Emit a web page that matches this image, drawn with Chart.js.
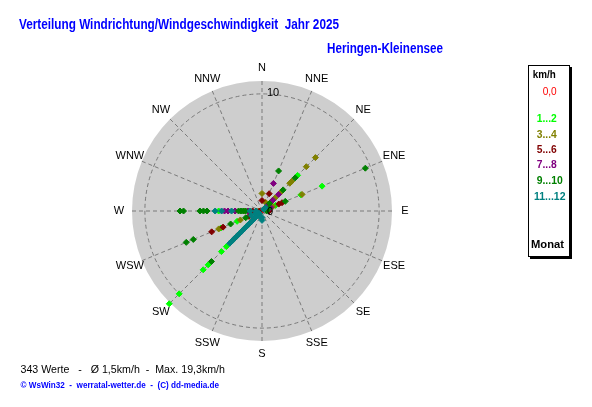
<!DOCTYPE html>
<html>
<head>
<meta charset="utf-8">
<script src="https://cdn.jsdelivr.net/npm/chart.js@4"></script>
<style>
  html, body { margin: 0; padding: 0; background: #fff; }
  canvas { display: block; }
</style>
</head>
<body>
<canvas id="rose" width="592" height="407"></canvas>
<script>
  const directions = ['N', 'NNE', 'NE', 'ENE', 'E', 'ESE', 'SE', 'SSE',
    'S', 'SSW', 'SW', 'WSW', 'W', 'WNW', 'NW', 'NNW'];
  const radialTicks = [0, 10];

  const groupLabels = ['0,0', '1...2', '3...4', '5...6', '7...8', '9...10', '11...12'];
  const groupColors = ['#ff0000', '#00ff00', '#808000', '#800000', '#800080', '#008000', '#008080'];

  // readings per month pair: [direction, value]
  const calm = [['N', 0], ['E', 0]];
  const months1_2 = [
    ['SW', 11.2], ['SW', 10.0], ['SW', 7.1], ['SW', 6.5], ['SW', 4.9], ['SW', 4.3], ['SW', 1.9],
    ['WSW', 3.8], ['WSW', 2.3], ['W', 3.7], ['W', 1.1],
    ['NE', 4.3], ['NE', 1.1], ['ENE', 5.55], ['ENE', 3.6], ['ENE', 1.25]
  ];
  const months3_4 = [
    ['NE', 6.45], ['NE', 5.35], ['NE', 3.6], ['NE', 3.35], ['NE', 2.3], ['NE', 1.6],
    ['ENE', 3.7], ['ENE', 1.0], ['N', 1.5], ['NNE', 0.8],
    ['WSW', 4.0], ['WSW', 2.0], ['W', 1.5], ['W', 0.3]
  ];
  const months5_6 = [
    ['W', 2.3], ['W', 0.8], ['W', 0.5], ['W', 0.2],
    ['WSW', 4.65], ['WSW', 3.6], ['WSW', 1.2], ['SW', 3.1], ['SW', 1.6],
    ['NNE', 1.6], ['NE', 1.0], ['NE', 0.5], ['ENE', 1.85], ['ENE', 1.55], ['E', 0.6], ['N', 0.9]
  ];
  const months7_8 = [
    ['W', 3.2], ['W', 2.9], ['W', 2.3], ['W', 1.2],
    ['SW', 2.8], ['SW', 0.9], ['NNE', 2.55],
    ['NE', 2.0], ['NE', 1.3], ['NE', 0.7], ['ENE', 0.8]
  ];
  const months9_10 = [
    ['W', 7.0], ['W', 6.7], ['W', 5.3], ['W', 5.0], ['W', 4.7], ['W', 2.0], ['W', 1.8], ['W', 1.6], ['W', 1.4],
    ['WSW', 7.0], ['WSW', 6.35], ['WSW', 2.9], ['WSW', 1.5], ['SW', 6.1], ['SW', 3.4],
    ['NNE', 3.7], ['NE', 4.0], ['NE', 2.55], ['NE', 0.9],
    ['ENE', 9.55], ['ENE', 2.15], ['ENE', 0.6], ['E', 0.4]
  ];
  const months11_12 = [
    ['SW', 3.9], ['SW', 3.6], ['SW', 3.3], ['SW', 3.0], ['SW', 2.7], ['SW', 2.4], ['SW', 2.1],
    ['SW', 1.8], ['SW', 1.5], ['SW', 1.2], ['SW', 0.9], ['SW', 0.6], ['SW', 0.3],
    ['W', 4.0], ['W', 3.45], ['W', 2.6], ['W', 1.0], ['W', 0.5],
    ['WSW', 1.0], ['WSW', 0.6], ['S', 0.8], ['S', 0.55], ['SSW', 0.5],
    ['NE', 0.4], ['NE', 0.2]
  ];

  const groups = [calm, months1_2, months3_4, months5_6, months7_8, months9_10, months11_12];

  // one radar dataset can hold a single value per direction, so stack layers
  const datasets = [];
  groups.forEach((pts, g) => {
    const layers = [];
    pts.forEach(([dir, v]) => {
      const i = directions.indexOf(dir);
      let layer = layers.find(l => l[i] === null);
      if (!layer) {
        layer = new Array(directions.length).fill(null);
        layers.push(layer);
      }
      layer[i] = v;
    });
    layers.forEach(l => datasets.push({
      label: groupLabels[g],
      data: l,
      showLine: false,
      fill: false,
      order: groupLabels.length - g,
      pointStyle: 'rectRot',
      pointRadius: 3,
      pointBorderWidth: 1,
      pointBackgroundColor: groupColors[g],
      pointBorderColor: groupColors[g]
    }));
  });

  function fitText(ctx, text, x, y, width) {
    const w = ctx.measureText(text).width;
    ctx.save();
    ctx.translate(x, y);
    ctx.scale(width / w, 1);
    ctx.fillText(text, 0, 0);
    ctx.restore();
  }

  const decor = {
    id: 'decor',
    afterDraw(chart) {
      const ctx = chart.ctx;
      const r = chart.scales.r;
      ctx.save();
      ctx.textBaseline = 'middle';

      // compass labels
      ctx.fillStyle = '#000';
      ctx.font = '11px "Liberation Sans", Arial, sans-serif';
      ctx.textAlign = 'center';
      directions.forEach((d, i) => {
        const p = r.getPointPosition(i, 143);
        ctx.fillText(d, p.x, p.y);
      });

      // radial tick labels
      ctx.textAlign = 'left';
      radialTicks.forEach(t => {
        const y = r.yCenter - r.getDistanceFromCenterForValue(t);
        ctx.fillText(String(t), r.xCenter + 5, t === 0 ? y + 1 : y - 1);
      });

      // title block
      ctx.fillStyle = '#0000ff';
      ctx.font = 'bold 14px "Liberation Sans", Arial, sans-serif';
      fitText(ctx, 'Verteilung Windrichtung/Windgeschwindigkeit  Jahr 2025', 19, 25.5, 320);
      fitText(ctx, 'Heringen-Kleinensee', 327, 49.5, 116);

      // footer
      ctx.fillStyle = '#000';
      ctx.font = '11px "Liberation Sans", Arial, sans-serif';
      fitText(ctx, '343 Werte   -   \u00d8 1,5km/h  -  Max. 19,3km/h', 20.5, 369.5, 204.5);
      ctx.fillStyle = '#0000ff';
      ctx.font = 'bold 9px "Liberation Sans", Arial, sans-serif';
      fitText(ctx, '\u00a9 WsWin32  -  werratal-wetter.de  -  (C) dd-media.de', 20.5, 385.5, 198.5);

      // legend box with shadow
      ctx.fillStyle = '#000';
      ctx.fillRect(530, 67, 42, 192);
      ctx.fillStyle = '#fff';
      ctx.fillRect(528, 65, 42, 192);
      ctx.strokeStyle = '#000';
      ctx.lineWidth = 1;
      ctx.strokeRect(528.5, 65.5, 41, 191);

      ctx.fillStyle = '#000';
      ctx.font = 'bold 11px "Liberation Sans", Arial, sans-serif';
      fitText(ctx, 'km/h', 532.7, 75, 23);
      fitText(ctx, 'Monat', 531, 245, 33);
      ctx.fillStyle = groupColors[0];
      ctx.font = '11px "Liberation Sans", Arial, sans-serif';
      fitText(ctx, groupLabels[0], 542.7, 91.5, 14);
      ctx.font = 'bold 11px "Liberation Sans", Arial, sans-serif';
      const legY = [0, 119.3, 134.5, 150, 165.3, 180.7, 196.5];
      const legX = [0, 536.7, 536.7, 536.7, 536.7, 536.7, 534];
      const legW = [0, 20, 20, 20, 20, 26, 31.5];
      for (let g = 1; g < groupLabels.length; g++) {
        ctx.fillStyle = groupColors[g];
        fitText(ctx, groupLabels[g], legX[g], legY[g], legW[g]);
      }
      ctx.restore();
    }
  };

  new Chart(document.getElementById('rose'), {
    type: 'radar',
    data: { labels: directions, datasets: datasets },
    options: {
      responsive: false,
      animation: false,
      events: [],
      layout: { padding: { left: 132, right: 200, top: 81, bottom: 66 } },
      plugins: { legend: { display: false }, tooltip: { enabled: false } },
      elements: { line: { borderWidth: 0 } },
      scales: {
        r: {
          min: 0,
          max: 11.1,
          backgroundColor: '#cecece',
          ticks: { display: false, stepSize: 10 },
          pointLabels: { display: false },
          grid: {
            circular: true,
            lineWidth: 1,
            color: c => (c.tick && c.tick.value === 10) ? '#7a7a7a' : 'rgba(0,0,0,0)'
          },
          border: { dash: [4, 3] },
          angleLines: { color: '#7a7a7a', lineWidth: 1, borderDash: [4, 3] }
        }
      }
    },
    plugins: [decor]
  });
</script>
</body>
</html>
